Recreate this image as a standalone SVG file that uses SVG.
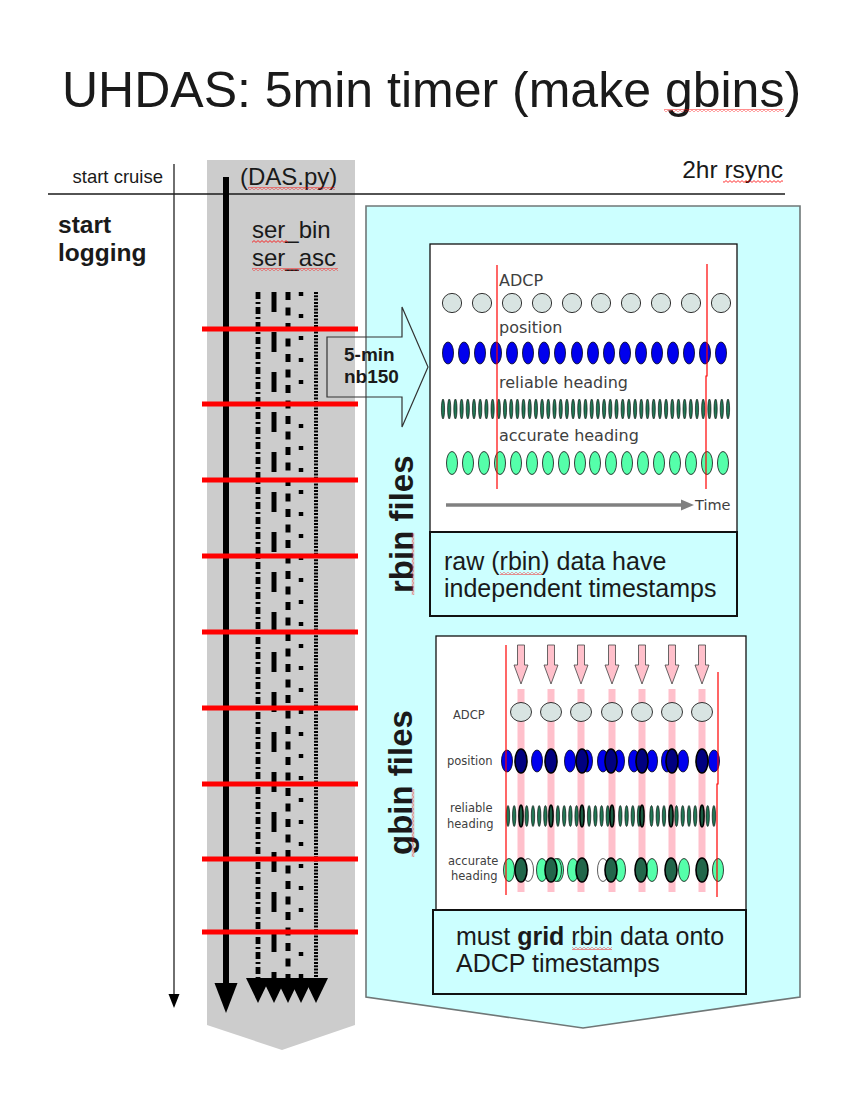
<svg xmlns="http://www.w3.org/2000/svg" xmlns:xlink="http://www.w3.org/1999/xlink" width="850" height="1100" viewBox="0 0 850 1100">
<style>
.t{font-family:"Liberation Sans",Arial,sans-serif;fill:#1a1a1a}
.b{font-weight:bold}
.lbl{font-family:"DejaVu Sans",Verdana,sans-serif;fill:#404040}
.adcp{fill:#d8e4e2;stroke:#333;stroke-width:1}
.pos{fill:#0000ee;stroke:#00001a;stroke-width:0.8}
.posd{fill:#000080;stroke:#000;stroke-width:1.6}
.rel{fill:#227755;stroke:#000;stroke-width:0.6}
.reld{fill:#1a5a40;stroke:#000;stroke-width:1.5}
.acc{fill:#55ffaa;stroke:#111;stroke-width:0.8}
.accd{fill:#22664a;stroke:#000;stroke-width:1.6}
.accw{fill:#fff;stroke:#333;stroke-width:0.8}
.redv{stroke:#ff0000;stroke-width:1.2;fill:none}
.red5{stroke:#ff0000;stroke-width:5}
.pink{fill:#ffc0cb}
.parr{fill:#ffc0cb;stroke:#444;stroke-width:0.8}
.das{stroke:#000;fill:none;marker-end:url(#dah)}
.sq{fill:url(#sqp)}
</style>
<defs>
<pattern id="sqp" width="4" height="3" patternUnits="userSpaceOnUse">
<polyline points="0,2.4 2,0.6 4,2.4" fill="none" stroke="#ff0000" stroke-width="0.8"/>
</pattern>
<marker id="dah" markerUnits="userSpaceOnUse" markerWidth="25" markerHeight="24" viewBox="0 -12 25 24" refX="0" refY="0" orient="auto">
<path d="M0,-12 L25,0 L0,12 z" fill="#000"/>
</marker>
<marker id="thick" markerUnits="userSpaceOnUse" markerWidth="30" markerHeight="24" viewBox="0 -12 30 24" refX="0" refY="0" orient="auto">
<path d="M0,-11.5 L30,0 L0,11.5 z" fill="#000"/>
</marker>
<marker id="thin" markerUnits="userSpaceOnUse" markerWidth="14" markerHeight="12" viewBox="0 -6 14 12" refX="0" refY="0" orient="auto">
<path d="M0,-5.5 L14,0 L0,5.5 z" fill="#000"/>
</marker>
<marker id="garr" markerUnits="userSpaceOnUse" markerWidth="13" markerHeight="12" viewBox="0 -6 13 12" refX="0" refY="0" orient="auto">
<path d="M0,-5.5 L13,0 L0,5.5 z" fill="#808080"/>
</marker>
<ellipse id="rh" cx="0" cy="0" rx="1.6" ry="10" class="rel"/>
<ellipse id="rh2" cx="0" cy="0" rx="1.7" ry="10.5" class="rel"/>
<ellipse id="pe" cx="0" cy="0" rx="5.5" ry="11" class="pos"/>
<ellipse id="ae" cx="0" cy="0" rx="5.5" ry="11.5" class="acc"/>
<polygon id="parrow" points="-3.5,0 3.5,0 3.5,20 7,20 0,39 -7,20 -3.5,20" class="parr"/>
</defs>

<rect width="850" height="1100" fill="#fff"/>

<g id="title">
<text class="t" x="62" y="107" font-size="50">UHDAS: 5min timer (make gbins)</text>
<rect class="sq" x="664" y="109" width="120" height="3"/>
</g>

<g id="das-band">
<polygon points="207,160 355,160 355,1025 282,1050 207,1025" fill="#cccccc"/>
</g>

<g id="timeline-rule">
<line x1="48" y1="194" x2="785" y2="194" stroke="#1a1a1a" stroke-width="1.3"/>
<text class="t" x="163" y="183" font-size="18.5" text-anchor="end">start cruise</text>
<text class="t b" x="58" y="233" font-size="24.5">start</text>
<text class="t b" x="58" y="261" font-size="24.5">logging</text>
<text class="t" x="783" y="178" font-size="24.5" text-anchor="end">2hr rsync</text>
<rect class="sq" x="723" y="180" width="60" height="3"/>
</g>

<g id="cyan-panel">
<polygon points="366,206 800,206 800,997 583,1028 366,997" fill="#ccffff" stroke="#6f7777" stroke-width="1.6"/>
<text class="t b" font-size="33" transform="translate(413,593) rotate(-90)">rbin files</text>
<rect class="sq" x="0" y="0" width="62" height="3" transform="translate(411.5,595) rotate(-90)"/>
<text class="t b" font-size="33" transform="translate(412,855) rotate(-90)">gbin files</text>
<rect class="sq" x="0" y="0" width="68" height="3" transform="translate(411.5,857) rotate(-90)"/>
</g>

<g id="das-node">
<text class="t" x="240" y="185" font-size="24">(DAS.py)</text>
<rect class="sq" x="248" y="187" width="87" height="3"/>
<text class="t" x="252" y="238" font-size="24">ser_bin</text>
<rect class="sq" x="252" y="240" width="36" height="3"/>
<text class="t" x="252" y="266" font-size="24">ser_asc</text>
<rect class="sq" x="252" y="268" width="86" height="3"/>
</g>

<g id="connectors">
<line x1="174" y1="164" x2="174" y2="994" stroke="#222" stroke-width="1.3" marker-end="url(#thin)"/>
<line x1="226" y1="177" x2="226" y2="983" stroke="#000" stroke-width="6" marker-end="url(#thick)"/>
<line class="das" x1="258" y1="292" x2="258" y2="978" stroke-width="4.8" stroke-dasharray="7 3 2 3"/>
<line class="das" x1="274" y1="292" x2="274" y2="978" stroke-width="5" stroke-dasharray="20 20"/>
<line class="das" x1="288" y1="292" x2="288" y2="978" stroke-width="5" stroke-dasharray="8 7.5"/>
<line class="das" x1="301" y1="292" x2="301" y2="978" stroke-width="4.5" stroke-dasharray="4 18"/>
<line class="das" x1="316" y1="292" x2="316" y2="978" stroke-width="4" stroke-dasharray="2 1.3"/>
</g>

<g id="timer-ticks">
<line class="red5" x1="202" y1="329" x2="358" y2="329"/>
<line class="red5" x1="202" y1="404" x2="358" y2="404"/>
<line class="red5" x1="202" y1="480" x2="358" y2="480"/>
<line class="red5" x1="202" y1="556" x2="358" y2="556"/>
<line class="red5" x1="202" y1="632" x2="358" y2="632"/>
<line class="red5" x1="202" y1="708" x2="358" y2="708"/>
<line class="red5" x1="202" y1="784" x2="358" y2="784"/>
<line class="red5" x1="202" y1="859" x2="358" y2="859"/>
<line class="red5" x1="202" y1="932" x2="358" y2="932"/>
</g>

<g id="nb150-arrow">
<polygon points="327,337 402,337 402,307 428,367 402,427 402,397 327,397" fill="none" stroke="#333" stroke-width="1.2"/>
<text class="t b" x="344" y="361" font-size="19">5-min</text>
<text class="t b" x="344" y="383" font-size="19">nb150</text>
</g>

<g id="rbin-panel">
<rect x="430" y="244" width="307" height="288" fill="#fff" stroke="#111" stroke-width="1.3"/>
<text class="lbl" x="499" y="286" font-size="16">ADCP</text>
<circle class="adcp" cx="452" cy="303" r="9.6"/>
<circle class="adcp" cx="482" cy="303" r="9.6"/>
<circle class="adcp" cx="512" cy="303" r="9.6"/>
<circle class="adcp" cx="542" cy="303" r="9.6"/>
<circle class="adcp" cx="572" cy="303" r="9.6"/>
<circle class="adcp" cx="601" cy="303" r="9.6"/>
<circle class="adcp" cx="631" cy="303" r="9.6"/>
<circle class="adcp" cx="661" cy="303" r="9.6"/>
<circle class="adcp" cx="691" cy="303" r="9.6"/>
<circle class="adcp" cx="721" cy="303" r="9.6"/>
<text class="lbl" x="499" y="333" font-size="16">position</text>
<g transform="translate(0,353)">
<use xlink:href="#pe" x="448"/><use xlink:href="#pe" x="464"/><use xlink:href="#pe" x="480"/><use xlink:href="#pe" x="496"/><use xlink:href="#pe" x="512"/><use xlink:href="#pe" x="528"/><use xlink:href="#pe" x="544"/><use xlink:href="#pe" x="560"/><use xlink:href="#pe" x="577"/><use xlink:href="#pe" x="593"/><use xlink:href="#pe" x="609"/><use xlink:href="#pe" x="625"/><use xlink:href="#pe" x="641"/><use xlink:href="#pe" x="657"/><use xlink:href="#pe" x="673"/><use xlink:href="#pe" x="689"/><use xlink:href="#pe" x="705"/><use xlink:href="#pe" x="721"/>
</g>
<text class="lbl" x="499" y="388" font-size="16">reliable heading</text>
<g transform="translate(0,409)">
<use xlink:href="#rh" x="443"/><use xlink:href="#rh" x="449.2"/><use xlink:href="#rh" x="455.4"/><use xlink:href="#rh" x="461.6"/><use xlink:href="#rh" x="467.8"/><use xlink:href="#rh" x="474"/><use xlink:href="#rh" x="480.2"/><use xlink:href="#rh" x="486.4"/><use xlink:href="#rh" x="492.6"/><use xlink:href="#rh" x="498.8"/><use xlink:href="#rh" x="505"/><use xlink:href="#rh" x="511.2"/><use xlink:href="#rh" x="517.4"/><use xlink:href="#rh" x="523.5"/><use xlink:href="#rh" x="529.7"/><use xlink:href="#rh" x="535.9"/><use xlink:href="#rh" x="542.1"/><use xlink:href="#rh" x="548.3"/><use xlink:href="#rh" x="554.5"/><use xlink:href="#rh" x="560.7"/><use xlink:href="#rh" x="566.9"/><use xlink:href="#rh" x="573.1"/><use xlink:href="#rh" x="579.3"/><use xlink:href="#rh" x="585.5"/><use xlink:href="#rh" x="591.7"/><use xlink:href="#rh" x="597.9"/><use xlink:href="#rh" x="604.1"/><use xlink:href="#rh" x="610.3"/><use xlink:href="#rh" x="616.5"/><use xlink:href="#rh" x="622.7"/><use xlink:href="#rh" x="628.9"/><use xlink:href="#rh" x="635.1"/><use xlink:href="#rh" x="641.3"/><use xlink:href="#rh" x="647.5"/><use xlink:href="#rh" x="653.7"/><use xlink:href="#rh" x="659.9"/><use xlink:href="#rh" x="666.1"/><use xlink:href="#rh" x="672.3"/><use xlink:href="#rh" x="678.5"/><use xlink:href="#rh" x="684.6"/><use xlink:href="#rh" x="690.8"/><use xlink:href="#rh" x="697"/><use xlink:href="#rh" x="703.2"/><use xlink:href="#rh" x="709.4"/><use xlink:href="#rh" x="715.6"/><use xlink:href="#rh" x="721.8"/><use xlink:href="#rh" x="728"/>
</g>
<text class="lbl" x="499" y="441" font-size="16">accurate heading</text>
<g transform="translate(0,463)">
<use xlink:href="#ae" x="452"/><use xlink:href="#ae" x="468"/><use xlink:href="#ae" x="484"/><use xlink:href="#ae" x="500"/><use xlink:href="#ae" x="516"/><use xlink:href="#ae" x="532"/><use xlink:href="#ae" x="548"/><use xlink:href="#ae" x="564"/><use xlink:href="#ae" x="580"/><use xlink:href="#ae" x="595"/><use xlink:href="#ae" x="611"/><use xlink:href="#ae" x="627"/><use xlink:href="#ae" x="643"/><use xlink:href="#ae" x="659"/><use xlink:href="#ae" x="675"/><use xlink:href="#ae" x="691"/><use xlink:href="#ae" x="707"/><use xlink:href="#ae" x="723"/>
</g>
<line class="redv" x1="497" y1="265" x2="497" y2="489"/>
<polyline class="redv" points="707,264 707,376 706,376 706,489"/>
<line x1="446" y1="505" x2="681" y2="505" stroke="#808080" stroke-width="3.5" marker-end="url(#garr)"/>
<text class="lbl" x="695" y="510" font-size="14.5" fill="#333">Time</text>
</g>

<g id="rbin-note">
<rect x="430" y="532" width="307" height="84" fill="#ccffff" stroke="#111" stroke-width="2"/>
<text class="t" x="444" y="570" font-size="25">raw (rbin) data have</text>
<rect class="sq" x="500" y="572" width="42" height="3"/>
<text class="t" x="444" y="597" font-size="25">independent timestamps</text>
</g>

<g id="gbin-panel">
<rect x="436" y="636" width="310" height="274" fill="#fff" stroke="#111" stroke-width="1.3"/>
<rect class="pink" x="517.5" y="689" width="7" height="203"/>
<rect class="pink" x="547.5" y="689" width="7" height="203"/>
<rect class="pink" x="577.5" y="689" width="7" height="203"/>
<rect class="pink" x="608.5" y="689" width="7" height="203"/>
<rect class="pink" x="638.5" y="689" width="7" height="203"/>
<rect class="pink" x="668.5" y="689" width="7" height="203"/>
<rect class="pink" x="698.5" y="689" width="7" height="203"/>
<g transform="translate(0,645)">
<use xlink:href="#parrow" x="521"/><use xlink:href="#parrow" x="551"/><use xlink:href="#parrow" x="581"/><use xlink:href="#parrow" x="612"/><use xlink:href="#parrow" x="642"/><use xlink:href="#parrow" x="672"/><use xlink:href="#parrow" x="702"/>
</g>
<text class="lbl" x="453" y="719" font-size="11.5" fill="#333">ADCP</text>
<ellipse class="adcp" cx="521" cy="712" rx="10.5" ry="9.5"/>
<ellipse class="adcp" cx="551" cy="712" rx="10.5" ry="9.5"/>
<ellipse class="adcp" cx="581" cy="712" rx="10.5" ry="9.5"/>
<ellipse class="adcp" cx="612" cy="712" rx="10.5" ry="9.5"/>
<ellipse class="adcp" cx="642" cy="712" rx="10.5" ry="9.5"/>
<ellipse class="adcp" cx="672" cy="712" rx="10.5" ry="9.5"/>
<ellipse class="adcp" cx="702" cy="712" rx="10.5" ry="9.5"/>
<text class="lbl" x="447" y="765" font-size="11.5" fill="#333">position</text>
<g transform="translate(0,761)">
<use xlink:href="#pe" x="507"/><use xlink:href="#pe" x="537"/><use xlink:href="#pe" x="570"/><use xlink:href="#pe" x="587"/><use xlink:href="#pe" x="603"/><use xlink:href="#pe" x="619"/><use xlink:href="#pe" x="634"/><use xlink:href="#pe" x="652"/><use xlink:href="#pe" x="667"/><use xlink:href="#pe" x="683"/><use xlink:href="#pe" x="714"/>
</g>
<ellipse class="posd" cx="521" cy="761" rx="6" ry="12"/>
<ellipse class="posd" cx="551" cy="761" rx="6" ry="12"/>
<ellipse class="posd" cx="582" cy="761" rx="6" ry="12"/>
<ellipse class="posd" cx="611" cy="761" rx="6" ry="12"/>
<ellipse class="posd" cx="642" cy="761" rx="6" ry="12"/>
<ellipse class="posd" cx="672" cy="761" rx="6" ry="12"/>
<ellipse class="posd" cx="702" cy="761" rx="6" ry="12"/>
<text class="lbl" x="450" y="812" font-size="11.5" fill="#333">reliable</text>
<text class="lbl" x="447" y="828" font-size="11.5" fill="#333">heading</text>
<g transform="translate(0,816)">
<use xlink:href="#rh2" x="508"/><use xlink:href="#rh2" x="514.2"/><use xlink:href="#rh2" x="526.7"/><use xlink:href="#rh2" x="533"/><use xlink:href="#rh2" x="539.2"/><use xlink:href="#rh2" x="545.4"/><use xlink:href="#rh2" x="557.9"/><use xlink:href="#rh2" x="564.2"/><use xlink:href="#rh2" x="570.4"/><use xlink:href="#rh2" x="576.6"/><use xlink:href="#rh2" x="589.1"/><use xlink:href="#rh2" x="595.4"/><use xlink:href="#rh2" x="601.6"/><use xlink:href="#rh2" x="607.8"/><use xlink:href="#rh2" x="620.3"/><use xlink:href="#rh2" x="626.6"/><use xlink:href="#rh2" x="632.8"/><use xlink:href="#rh2" x="639"/><use xlink:href="#rh2" x="651.5"/><use xlink:href="#rh2" x="657.8"/><use xlink:href="#rh2" x="664"/><use xlink:href="#rh2" x="676.5"/><use xlink:href="#rh2" x="682.7"/><use xlink:href="#rh2" x="689"/><use xlink:href="#rh2" x="695.2"/><use xlink:href="#rh2" x="707.7"/><use xlink:href="#rh2" x="713.9"/>
</g>
<ellipse class="reld" cx="521" cy="816" rx="2.1" ry="11"/>
<ellipse class="reld" cx="551" cy="816" rx="2.1" ry="11"/>
<ellipse class="reld" cx="582" cy="816" rx="2.1" ry="11"/>
<ellipse class="reld" cx="612" cy="816" rx="2.1" ry="11"/>
<ellipse class="reld" cx="642" cy="816" rx="2.1" ry="11"/>
<ellipse class="reld" cx="671" cy="816" rx="2.1" ry="11"/>
<ellipse class="reld" cx="702" cy="816" rx="2.1" ry="11"/>
<text class="lbl" x="448" y="865" font-size="11.5" fill="#333">accurate</text>
<text class="lbl" x="451" y="880" font-size="11.5" fill="#333">heading</text>
<g transform="translate(0,870)">
<use xlink:href="#ae" x="509"/><use xlink:href="#ae" x="542"/><use xlink:href="#ae" x="558"/><use xlink:href="#ae" x="573"/><use xlink:href="#ae" x="620"/><use xlink:href="#ae" x="652"/><use xlink:href="#ae" x="684"/><use xlink:href="#ae" x="718"/>
</g>
<ellipse class="accw" cx="528" cy="870" rx="5.5" ry="11.5"/>
<ellipse class="accw" cx="603" cy="870" rx="5.5" ry="11.5"/>
<ellipse class="acc" cx="556" cy="870" rx="5.5" ry="11.5"/>
<ellipse class="accd" cx="521" cy="870" rx="6" ry="12"/>
<ellipse class="accd" cx="551" cy="870" rx="6" ry="12"/>
<ellipse class="accd" cx="582" cy="870" rx="6" ry="12"/>
<ellipse class="accd" cx="611" cy="870" rx="6" ry="12"/>
<ellipse class="accd" cx="641" cy="870" rx="6" ry="12"/>
<ellipse class="accd" cx="671" cy="870" rx="6" ry="12"/>
<ellipse class="accd" cx="702" cy="870" rx="6" ry="12"/>
<line class="redv" x1="506" y1="645" x2="506" y2="895"/>
<polyline class="redv" points="718,672 718,784 717,784 717,897"/>
</g>

<g id="gbin-note">
<rect x="433" y="910" width="313" height="84" fill="#ccffff" stroke="#111" stroke-width="2"/>
<text class="t" x="456" y="945" font-size="25">must <tspan font-weight="bold">grid</tspan> rbin data onto</text>
<rect class="sq" x="572" y="947" width="40" height="3"/>
<text class="t" x="456" y="972" font-size="25">ADCP timestamps</text>
</g>
</svg>
